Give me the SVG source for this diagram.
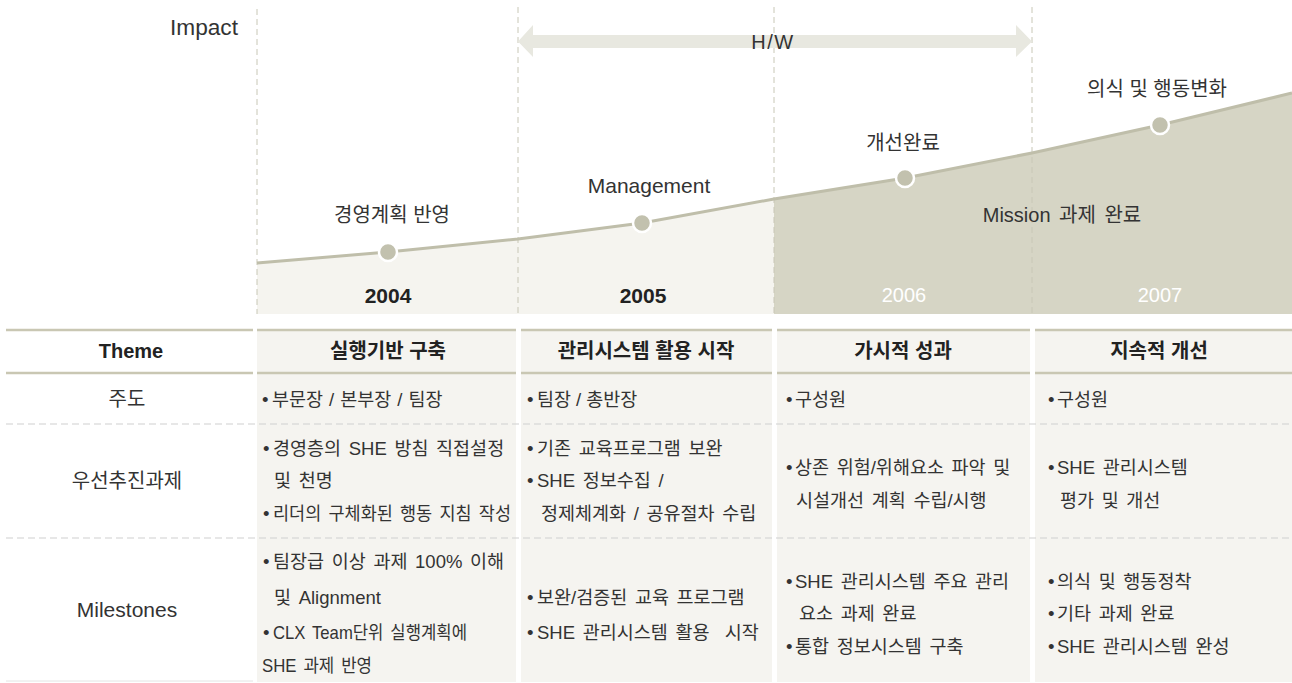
<svg xmlns="http://www.w3.org/2000/svg" width="1292" height="683" viewBox="0 0 1292 683">
<style>
text{font-family:"Liberation Sans","Noto Sans CJK KR",sans-serif;fill:#333;dominant-baseline:central}
.lbl{font-size:20px;text-anchor:middle}
.yr{font-size:21px;font-weight:bold;text-anchor:middle;fill:#222}
.yrw{font-size:20px;text-anchor:middle;fill:#fff}
.hd{font-size:20px;font-weight:bold;text-anchor:middle;fill:#222}
.rl{font-size:20px;text-anchor:middle}
.b{font-size:18.5px;word-spacing:2.5px}
.vd{stroke:#c8c7b6;stroke-width:1;stroke-dasharray:6 4;fill:none}
.hl{stroke:#c9c7b3;stroke-width:2.5}
.rd{stroke:#cfcfcf;stroke-width:1.2;stroke-dasharray:7 4}
.cell{fill:#f5f4f0}
.dot{fill:#c2c1ae;stroke:#fff;stroke-width:2.5}
</style>
<rect width="1292" height="683" fill="#fff"/>
<g id="chart">
<polygon points="257,263 388,252 518,239 642,223 774,199 774,314 257,314" fill="#f5f4ef"/>
<polygon points="774,199 905,178 1032,153 1160,125 1292,93 1292,314 774,314" fill="#d6d5c5"/>
<line class="vd" x1="257" y1="9" x2="257" y2="314"/>
<line class="vd" x1="518" y1="7" x2="518" y2="314"/>
<line class="vd" x1="774" y1="7" x2="774" y2="314"/>
<line class="vd" x1="1032" y1="7" x2="1032" y2="314"/>
<polyline points="257,263 388,252 518,239 642,223 774,199 905,178 1032,153 1160,125 1292,93" fill="none" stroke="#bfbeaa" stroke-width="3"/>
<text x="170" y="27" textLength="68" lengthAdjust="spacingAndGlyphs" style="font-size:22px">Impact</text>
</g>
<g id="hw">
<polygon points="518,41.5 533,25 533,35 1016,35 1016,25 1032,41.5 1016,57 1016,48 533,48 533,57" fill="#e8e8e0"/>
<text x="773" y="42" style="font-size:20px;letter-spacing:1.5px;text-anchor:middle">H/W</text>
</g>
<g id="m2004">
<circle class="dot" cx="388" cy="252" r="9"/>
<text class="lbl" x="392" y="215">경영계획 반영</text>
<text class="yr" x="388" y="295">2004</text>
</g>
<g id="m2005">
<circle class="dot" cx="642" cy="223" r="9"/>
<text class="lbl" x="649" y="185" style="font-size:21px">Management</text>
<text class="yr" x="643" y="295">2005</text>
</g>
<g id="m2006">
<circle class="dot" cx="905" cy="178" r="9"/>
<text class="lbl" x="903" y="143">개선완료</text>
<text class="yrw" x="904" y="295">2006</text>
</g>
<g id="m2007">
<circle class="dot" cx="1160" cy="125" r="9"/>
<text class="lbl" x="1157" y="89">의식 및 행동변화</text>
<text class="yrw" x="1160" y="295">2007</text>
</g>
<text class="lbl" x="1062" y="215" style="word-spacing:3px">Mission 과제 완료</text>
<g id="table">
<rect class="cell" x="257" y="330" width="259" height="352"/>
<rect class="cell" x="521" y="330" width="251" height="352"/>
<rect class="cell" x="777" y="330" width="253" height="352"/>
<rect class="cell" x="1035" y="330" width="257" height="352"/>
<g>
<line class="hl" x1="6" y1="330" x2="253" y2="330"/>
<line class="hl" x1="257" y1="330" x2="516" y2="330"/>
<line class="hl" x1="521" y1="330" x2="772" y2="330"/>
<line class="hl" x1="777" y1="330" x2="1030" y2="330"/>
<line class="hl" x1="1035" y1="330" x2="1292" y2="330"/>
<line class="hl" x1="6" y1="373" x2="253" y2="373"/>
<line class="hl" x1="257" y1="373" x2="516" y2="373"/>
<line class="hl" x1="521" y1="373" x2="772" y2="373"/>
<line class="hl" x1="777" y1="373" x2="1030" y2="373"/>
<line class="hl" x1="1035" y1="373" x2="1292" y2="373"/>
<line class="rd" x1="6" y1="424" x2="1292" y2="424"/>
<line class="rd" x1="6" y1="538" x2="1292" y2="538"/>
<line x1="6" y1="681" x2="253" y2="681" stroke="#e4e4e4" stroke-width="1"/>
</g>
<g id="header">
<text class="hd" x="131" y="351">Theme</text>
<text class="hd" x="388" y="351">실행기반 구축</text>
<text class="hd" x="646" y="351">관리시스템 활용 시작</text>
<text class="hd" x="903" y="351">가시적 성과</text>
<text class="hd" x="1159" y="351">지속적 개선</text>
</g>
<g id="row-lead">
<text class="rl" x="127" y="399">주도</text>
<text class="b" x="262" y="399">•<tspan x="272">부문장</tspan><tspan dx="6">/</tspan><tspan dx="6">본부장</tspan><tspan dx="6">/</tspan><tspan dx="6">팀장</tspan></text>
<text class="b" x="527" y="399">•<tspan x="537">팀장</tspan><tspan dx="5">/</tspan><tspan dx="5">총반장</tspan></text>
<text class="b" x="786" y="399">•<tspan x="795">구성원</tspan></text>
<text class="b" x="1048" y="399">•<tspan x="1057">구성원</tspan></text>
</g>
<g id="row-priority">
<text class="rl" x="127" y="481">우선추진과제</text>
<text class="b" x="263" y="448">•<tspan x="273">경영층의 SHE 방침 직접설정</tspan></text>
<text class="b" x="274" y="480">및 천명</text>
<text class="b" x="263" y="513">•</text>
<text class="b" x="273" y="513" textLength="238" lengthAdjust="spacingAndGlyphs">리더의 구체화된 행동 지침 작성</text>
<text class="b" x="527" y="448">•<tspan x="537">기존 교육프로그램 보완</tspan></text>
<text class="b" x="527" y="480">•<tspan x="537">SHE 정보수집 /</tspan></text>
<text class="b" x="541" y="513">정제체계화 / 공유절차 수립</text>
<text class="b" x="786" y="467">•<tspan x="795">상존 위험/위해요소 파악 및</tspan></text>
<text class="b" x="796" y="500">시설개선 계획 수립/시행</text>
<text class="b" x="1048" y="467">•<tspan x="1057">SHE 관리시스템</tspan></text>
<text class="b" x="1060" y="500">평가 및 개선</text>
</g>
<g id="row-milestones">
<text class="rl" x="127" y="609" style="font-size:21px">Milestones</text>
<text class="b" x="263" y="561">•<tspan x="273">팀장급 이상 과제 100% 이해</tspan></text>
<text class="b" x="274" y="597">및 Alignment</text>
<text class="b" x="263" y="632">•</text>
<text class="b" x="273" y="632" textLength="194" lengthAdjust="spacingAndGlyphs">CLX Team단위 실행계획에</text>
<text class="b" x="262" y="665" textLength="110" lengthAdjust="spacingAndGlyphs">SHE 과제 반영</text>
<text class="b" x="527" y="597">•<tspan x="537">보완/검증된 교육 프로그램</tspan></text>
<text class="b" x="527" y="632" style="white-space:pre">•<tspan x="537">SHE 관리시스템 활용  시작</tspan></text>
<text class="b" x="786" y="581">•<tspan x="795">SHE 관리시스템 주요 관리</tspan></text>
<text class="b" x="799" y="613">요소 과제 완료</text>
<text class="b" x="786" y="646">•<tspan x="795">통합 정보시스템 구축</tspan></text>
<text class="b" x="1048" y="581">•<tspan x="1057">의식 및 행동정착</tspan></text>
<text class="b" x="1048" y="613">•<tspan x="1057">기타 과제 완료</tspan></text>
<text class="b" x="1048" y="646">•<tspan x="1057">SHE 관리시스템 완성</tspan></text>
</g>
</g>
</svg>
